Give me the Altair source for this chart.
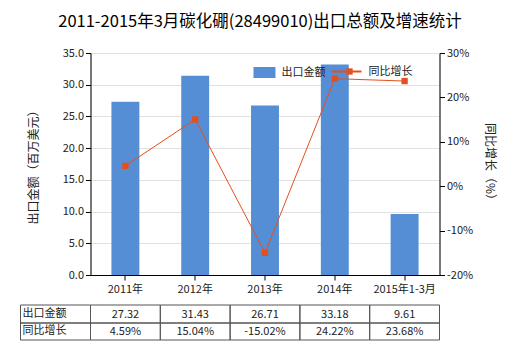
import altair as alt
import pandas as pd

categories = ["2011年", "2012年", "2013年", "2014年", "2015年1-3月"]
export_values = [27.32, 31.43, 26.71, 33.18, 9.61]
growth_values = [4.59, 15.04, -15.02, 24.22, 23.68]
export_labels = ["27.32", "31.43", "26.71", "33.18", "9.61"]
growth_labels = ["4.59%", "15.04%", "-15.02%", "24.22%", "23.68%"]
row_names = ["出口金额", "同比增长"]
series_names = ["出口金额", "同比增长"]
title_text = "2011-2015年3月碳化硼(28499010)出口总额及增速统计"
left_title = "出口金额（百万美元）"
right_title = "同比增长（%）"

df = pd.DataFrame({
    "cat": categories,
    "export": export_values,
    "growth": growth_values,
    "elab": export_labels,
    "glab": growth_labels,
})

FONT = "Noto Sans CJK SC"
BLUE = "#558ed5"
ORANGE = "#e3501e"
BORDER = "#555555"
TXT = "#222222"

xscale = alt.Scale(domain=categories, paddingInner=0, paddingOuter=0)
X = alt.X("cat:N", scale=xscale, sort=categories,
          axis=alt.Axis(title=None, labelAngle=0, labelFont=FONT, labelFontSize=11,
                        labelColor=TXT, domainColor="#000", tickColor="#000",
                        tickSize=5, labelPadding=3, grid=False))

base = alt.Chart(df)

bars = base.mark_bar(color=BLUE, width=alt.RelativeBandSize(0.4)).encode(
    x=X,
    y=alt.Y("export:Q", scale=alt.Scale(domain=[0, 35], nice=False),
            axis=alt.Axis(values=[0, 5, 10, 15, 20, 25, 30, 35], format=".1f",
                          title=left_title, titleFont=FONT, titleFontSize=12,
                          titleFontWeight="normal", titleColor=TXT, titlePadding=22,
                          labelFont=FONT, labelFontSize=11, labelColor=TXT,
                          domainColor="#000", tickColor="#000", tickSize=5,
                          labelPadding=2, grid=True, gridColor="#e0e0e0")),
)

yr = alt.Y("growth:Q", scale=alt.Scale(domain=[-20, 30], nice=False),
           axis=alt.Axis(orient="right", values=[-20, -10, 0, 10, 20, 30],
                         labelExpr="datum.value + '%'",
                         title=right_title, titleFont=FONT, titleFontSize=12,
                         titleFontWeight="normal", titleColor=TXT, titlePadding=10,
                         labelFont=FONT, labelFontSize=11, labelColor=TXT,
                         domainColor="#000", tickColor="#000", tickSize=5,
                         labelPadding=2, grid=False))

line = base.mark_line(color=ORANGE, strokeWidth=1).encode(x=X, y=yr)
pts = base.mark_square(color=ORANGE, size=40, opacity=1).encode(x=X, y=yr)
growth_layer = alt.layer(line, pts)

# table below the plot
row1 = base.mark_rect(fillOpacity=0, stroke=BORDER, strokeWidth=1).encode(
    x=X, y=alt.value(252), y2=alt.value(270))
row2 = base.mark_rect(fillOpacity=0, stroke=BORDER, strokeWidth=1).encode(
    x=X, y=alt.value(270), y2=alt.value(287))
t1 = base.mark_text(font=FONT, fontSize=11, color=TXT, baseline="middle").encode(
    x=X, y=alt.value(261.5), text="elab:N")
t2 = base.mark_text(font=FONT, fontSize=11, color=TXT, baseline="middle").encode(
    x=X, y=alt.value(279), text="glab:N")

lab_df = pd.DataFrame({"name": row_names})
lab_rect = alt.layer(
    alt.Chart(lab_df.iloc[[0]]).mark_rect(fillOpacity=0, stroke=BORDER, strokeWidth=1).encode(
        x=alt.value(-70), x2=alt.value(0), y=alt.value(252), y2=alt.value(270)),
    alt.Chart(lab_df.iloc[[1]]).mark_rect(fillOpacity=0, stroke=BORDER, strokeWidth=1).encode(
        x=alt.value(-70), x2=alt.value(0), y=alt.value(270), y2=alt.value(287)),
)
lab_t1 = alt.Chart(lab_df.iloc[[0]]).mark_text(font=FONT, fontSize=11, color=TXT, align="left", baseline="middle").encode(
    x=alt.value(-68), y=alt.value(260.5), text="name:N")
lab_t2 = alt.Chart(lab_df.iloc[[1]]).mark_text(font=FONT, fontSize=11, color=TXT, align="left", baseline="middle").encode(
    x=alt.value(-68), y=alt.value(278), text="name:N")

# legend
leg_df = pd.DataFrame({"name": series_names})
leg_rect = alt.Chart(leg_df.iloc[[0]]).mark_rect(color=BLUE).encode(
    x=alt.value(163), x2=alt.value(185), y=alt.value(14), y2=alt.value(25))
leg_t1 = alt.Chart(leg_df.iloc[[0]]).mark_text(font=FONT, fontSize=11, color=TXT, align="left", baseline="middle").encode(
    x=alt.value(191), y=alt.value(19.5), text="name:N")
leg_line = alt.Chart(leg_df.iloc[[1]]).mark_rule(color=ORANGE, strokeWidth=2).encode(
    x=alt.value(241), x2=alt.value(271), y=alt.value(18.5))
leg_sq = alt.Chart(leg_df.iloc[[1]]).mark_square(color=ORANGE, size=40, opacity=1).encode(
    x=alt.value(259), y=alt.value(18.5))
leg_t2 = alt.Chart(leg_df.iloc[[1]]).mark_text(font=FONT, fontSize=11, color=TXT, align="left", baseline="middle").encode(
    x=alt.value(278), y=alt.value(19), text="name:N")

chart = alt.layer(
    bars, growth_layer,
    row1, row2, t1, t2, lab_rect, lab_t1, lab_t2,
    leg_rect, leg_t1, leg_line, leg_sq, leg_t2,
).resolve_scale(y="independent").properties(
    width=349, height=222,
    title=alt.Title(title_text, font=FONT, fontSize=16.5, fontWeight="normal",
                    color="#000", anchor="middle", offset=17, dx=-5),
    padding={"left": 90.5, "top": 53, "right": 80.5, "bottom": 75},
    autosize=alt.AutoSizeParams(type="none"),
).configure_view(stroke=None).configure(background="white")

chart.save("out.html", embed_options={"renderer": "svg", "actions": False})
